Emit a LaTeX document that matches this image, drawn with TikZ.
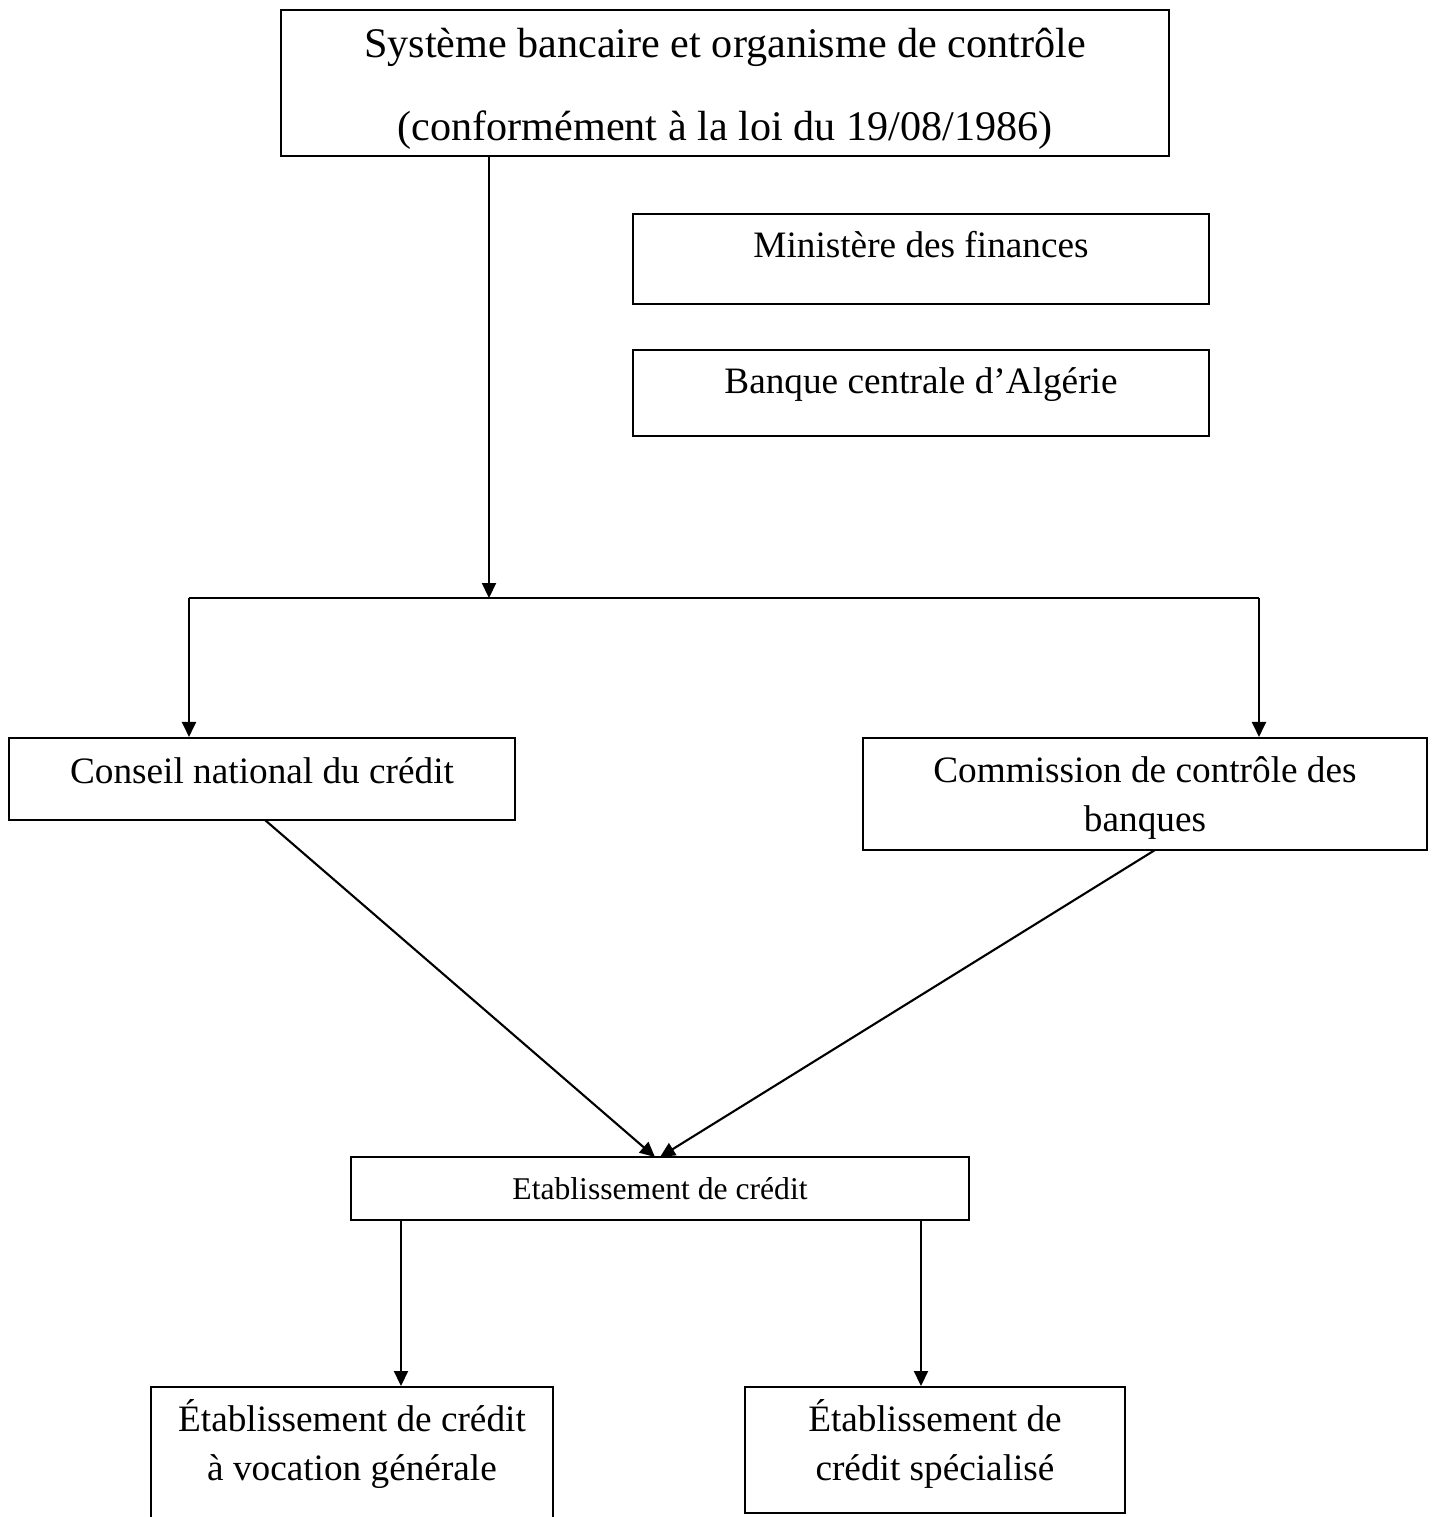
\documentclass[tikz,border=0pt]{standalone}
\usepackage{fontspec}
\setmainfont{Liberation Serif}
\usetikzlibrary{positioning,arrows.meta}
\tikzset{box/.style={rectangle,draw,inner sep=0pt,align=center,font=\fontsize{10.6}{13.9}\selectfont}}
\tikzset{upbox/.style={box,text height=0.25cm,text depth=0.27cm}}

\begin{document}
\begin{tikzpicture}[>={Triangle[length=0.15cm,width=0.14cm]},line width=0.6pt]
        \useasboundingbox (0,0) rectangle (14.35,-15.17);
        \node[box,minimum width=8.88cm,minimum height=1.46cm,font=\fontsize{12}{23.6}\selectfont,text height=1.24cm,text depth=0.1cm] (sys) at (7.25,-0.83) {Système bancaire et organisme de contrôle\\(conformément à la loi du 19/08/1986)};
        \node[upbox,minimum width=5.76cm,minimum height=0.9cm,text depth=0.29cm] (min) at (9.21,-2.59) {Ministère des finances};
        \node[upbox,minimum width=5.76cm,minimum height=0.86cm,text depth=0.25cm] (bca) at (9.21,-3.93) {Banque centrale d’Algérie};
        \node[box,minimum width=5.06cm,minimum height=0.82cm,text height=0.25cm,text depth=0.17cm] (cnc) at (2.62,-7.79) {Conseil national du crédit};
        \node[box,minimum width=5.64cm,minimum height=1.12cm,text height=0.80cm,text depth=0.06cm] (ccb) at (11.45,-7.94) {Commission de contrôle des\\banques};
        \node[box,minimum width=6.18cm,minimum height=0.63cm,font=\fontsize{9}{11}\selectfont] (etc) at (6.6,-11.885) {Etablissement de crédit};
        \node[box,minimum width=4.02cm,minimum height=1.36cm,text height=0.72cm,text depth=0.22cm,anchor=north] (gen) at (3.52,-13.86) {Établissement de crédit\\à vocation générale};
        \node[box,minimum width=3.8cm,minimum height=1.26cm,text height=0.72cm,text depth=0.12cm,anchor=north] (spe) at (9.35,-13.86) {Établissement de\\crédit spécialisé};

        \coordinate (split) at (4.89,-5.98);
        \coordinate (sl) at (1.89,-5.98);
        \coordinate (sr) at (12.59,-5.98);

        \draw [->] (sys.south -| split) to (split);
        \draw [] (sl) to (sr);
        \draw [->] (sl) to (sl |- cnc.north);
        \draw [->] (sr) to (sr |- ccb.north);
        \draw [->] (2.65,-8.20) to (6.55,-11.57);
        \draw [->] (11.55,-8.50) to (6.60,-11.57);
        \draw [->] (4.01,-12.20) to (4.01,-13.86);
        \draw [->] (9.21,-12.20) to (9.21,-13.86);
    \end{tikzpicture}
\end{document}
